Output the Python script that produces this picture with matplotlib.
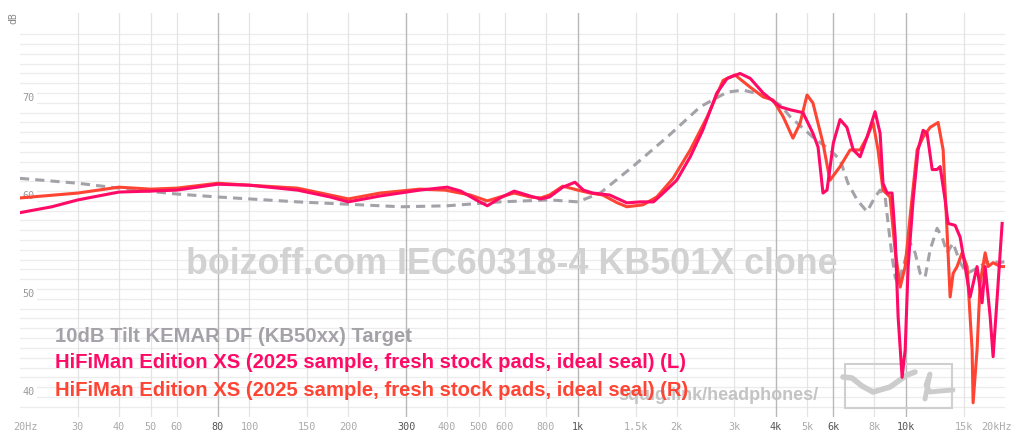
import matplotlib
matplotlib.use('Agg')
from matplotlib import pyplot as plt

plt.rcParams['font.family'] = ['Liberation Sans', 'DejaVu Sans']

# target curve (gray dashed)
target_f = [20, 30, 40, 60, 80, 140, 290, 400, 580, 820, 1000, 1170, 1470, 1870, 2360, 2850,
            3190, 3670, 4130, 4430, 5200, 5860, 6290, 6650, 7090, 7600, 8040, 8330, 8630, 8810,
            9060, 9260, 9450, 9790, 10280, 10650, 11030, 11420, 11830, 12420, 12870, 13330,
            13900, 14600, 15330, 16800, 17400, 18400, 19300, 20000]
target_db = [61.8, 61.3, 60.8, 60.2, 59.9, 59.4, 58.9, 59.0, 59.4, 59.6, 59.4, 60.3, 63.0, 66.0,
             69.1, 70.6, 70.8, 70.3, 69.3, 68.1, 66.0, 64.7, 63.7, 61.3, 59.6, 58.4, 59.9, 60.6,
             59.9, 57.2, 53.8, 51.7, 51.1, 52.8, 55.2, 54.2, 52.1, 51.7, 54.5, 56.7, 55.8, 54.2,
             55.2, 53.2, 52.1, 52.8, 53.2, 53.3, 53.2, 53.3]

# HiFiMan Edition XS (L)
left_f = [20, 25, 30, 40, 50, 60, 80, 100, 140, 176, 200, 250, 330, 400, 440, 490, 530, 580,
          640, 715, 770, 820, 900, 980, 1040, 1110, 1250, 1410, 1550, 1700, 1820, 2000, 2200,
          2400, 2650, 2850, 3120, 3350, 3670, 4130, 4430, 4850, 5200, 5390, 5580, 5740, 6000,
          6290, 6600, 6900, 7240, 7600, 8040, 8330, 8500, 8750, 9060, 9260, 9450, 9720, 9930,
          10140, 10500, 10870, 11260, 11580, 12000, 12420, 12690, 13140, 13420, 14100, 14600,
          15120, 15660, 16440, 17030, 17400, 18020, 18400, 19060, 19600]
left_db = [58.3, 58.9, 59.6, 60.4, 60.5, 60.6, 61.2, 61.1, 60.6, 59.9, 59.4, 60.0, 60.6, 60.9,
           60.5, 59.6, 59.0, 59.8, 60.5, 60.0, 59.7, 59.9, 60.9, 61.4, 60.6, 60.3, 60.1, 59.3,
           59.4, 59.4, 60.3, 61.6, 64.0, 66.7, 70.5, 72.0, 72.5, 72.0, 70.5, 69.1, 68.8, 68.5,
           66.4, 65.0, 60.3, 60.6, 65.4, 67.8, 67.0, 64.7, 64.0, 66.0, 68.6, 66.4, 61.3, 60.3,
           60.3, 55.8, 47.7, 41.5, 44.3, 52.8, 59.6, 64.7, 66.7, 66.4, 62.7, 62.7, 63.0, 59.6,
           57.2, 57.0, 55.8, 52.8, 49.7, 52.8, 49.1, 52.8, 47.7, 43.6, 51.1, 57.2]

# HiFiMan Edition XS (R)
right_f = [20, 30, 40, 50, 60, 80, 100, 140, 176, 200, 250, 330, 394, 470, 530, 580, 640, 715,
           770, 820, 900, 1000, 1090, 1190, 1320, 1410, 1580, 1740, 1950, 2200, 2480, 2770, 3010,
           3350, 3670, 3930, 4220, 4520, 4750, 4990, 5200, 5580, 5860, 6290, 6750, 7240, 7600,
           7930, 8210, 8500, 8930, 9250, 9590, 9930, 10280, 10800, 11260, 11830, 12510, 12960,
           13330, 13610, 13900, 14290, 14800, 15330, 15880, 15990, 16440, 16800, 17400, 17770,
           18400, 19330, 20000]
right_db = [59.8, 60.3, 60.9, 60.7, 60.8, 61.3, 61.1, 60.8, 60.1, 59.7, 60.3, 60.7, 60.6, 60.1,
            59.5, 59.9, 60.3, 59.9, 59.8, 60.1, 61.0, 60.6, 60.3, 60.1, 59.3, 58.9, 59.1, 59.9,
            61.8, 64.7, 68.1, 71.8, 72.35, 71.1, 70.1, 69.8, 68.1, 65.9, 67.4, 70.3, 69.5, 65.4,
            61.6, 63.0, 64.7, 64.7, 66.0, 67.5, 64.7, 60.6, 59.9, 54.5, 50.7, 52.8, 57.9, 64.7,
            66.0, 67.0, 67.5, 64.7, 56.2, 49.7, 52.1, 52.8, 54.2, 52.8, 44.3, 38.9, 44.3, 51.1,
            54.2, 52.8, 53.2, 52.8, 52.8]

freq_ticks = [20, 30, 40, 50, 60, 80, 100, 150, 200, 300, 400, 500, 600, 800, 1000, 1500,
              2000, 3000, 4000, 5000, 6000, 8000, 10000, 15000, 20000]
freq_labels = ['20Hz', '30', '40', '50', '60', '80', '100', '150', '200', '300', '400', '500',
               '600', '800', '1k', '1.5k', '2k', '3k', '4k', '5k', '6k', '8k', '10k', '15k', '20kHz']
strong_ticks = [80, 300, 1000, 4000, 6000, 10000]
db_ticks = [40, 50, 60, 70]

W, H = 1024, 443
fig = plt.figure(figsize=(W / 100, H / 100), dpi=100)
ax = fig.add_axes([20 / W, 1 - 417 / H, 985 / W, 404 / H])
ax.set_xscale('log')
ax.set_xlim(20, 20000)
ax.set_ylim(37.45, 78.67)
ax.axis('off')

# grid
for d in range(39, 78):
    ax.axhline(d - 0.5, color='#ececec', lw=0.9, zorder=0)
for f in freq_ticks[1:-1]:
    if f in strong_ticks:
        ax.axvline(f, color='#b8b8b8', lw=1.0, zorder=0.2)
    else:
        ax.axvline(f, color='#e4e4e4', lw=0.9, zorder=0.1)

# tick labels
for f, lab in zip(freq_ticks, freq_labels):
    c = '#555555' if f in strong_ticks else '#aaaaaa'
    dx = 0
    if lab == '20Hz':
        dx = 5
    if lab == '20kHz':
        dx = -8
    ax.annotate(lab, (f, 0), xycoords=('data', 'axes fraction'), xytext=(dx, -10),
                textcoords='offset pixels', ha='center', va='center', fontsize=7.3,
                family='DejaVu Sans Mono', color=c, annotation_clip=False)
for d in db_ticks:
    ax.text(21.2, d, str(d), ha='center', va='center', fontsize=7.3, family='DejaVu Sans Mono',
            color='#999999', zorder=1,
            bbox=dict(facecolor='white', edgecolor='none', pad=1.5))
fig.text(13 / W, 1 - 18 / H, 'dB', rotation=90, ha='center', va='center', fontsize=7,
         family='DejaVu Sans Mono', color='#888888')

# watermarks
ax.text(512 / W, 1 - 265 / H, 'boizoff.com IEC60318-4 KB501X clone', transform=fig.transFigure,
        ha='center', va='center', fontsize=25.8, fontweight='bold', color='#d2d2d2', zorder=0.5)
ax.text(718 / W, 1 - 396 / H, 'squig.link/headphones/', transform=fig.transFigure,
        ha='center', va='center', fontsize=13, fontweight='bold', color='#c4c4c4', zorder=0.5)

# logo box
logo = plt.Rectangle((845 / W, 1 - 408 / H), 107 / W, 44 / H, transform=fig.transFigure,
                     facecolor='none', edgecolor='#cfcfcf', lw=1.5, zorder=0.5)
ax.add_patch(logo)
ax.plot([843 / W, 852 / W, 862 / W, 873 / W, 890 / W, 907 / W, 915 / W],
        [1 - 377 / H, 1 - 378 / H, 1 - 386 / H, 1 - 392 / H, 1 - 387 / H, 1 - 375 / H, 1 - 372 / H],
        transform=fig.transFigure, color='#cccccc', lw=4, solid_capstyle='round', zorder=0.5)
ax.plot([925 / W, 930 / W, 926 / W, 930 / W, 940 / W, 953 / W],
        [1 - 399 / H, 1 - 374 / H, 1 - 385 / H, 1 - 392 / H, 1 - 391 / H, 1 - 390 / H],
        transform=fig.transFigure, color='#cccccc', lw=3.5, solid_capstyle='round', zorder=0.5)

# curves
ax.plot(target_f, target_db, color='#a4a2a8', lw=2.2, ls=(0, (3, 2)), zorder=2)
ax.plot(right_f, right_db, color='#ff4433', lw=2.2, zorder=3)
ax.plot(left_f, left_db, color='#ff0a66', lw=2.2, zorder=3)

# legend text
fig.text(55 / W, 1 - 336 / H, '10dB Tilt KEMAR DF (KB50xx) Target', ha='left', va='center',
         fontsize=14.6, fontweight='bold', color='#a4a2a8')
fig.text(55 / W, 1 - 363 / H, 'HiFiMan Edition XS (2025 sample, fresh stock pads, ideal seal) (L)',
         ha='left', va='center', fontsize=14.6, fontweight='bold', color='#ff0a66')
fig.text(55 / W, 1 - 391 / H, 'HiFiMan Edition XS (2025 sample, fresh stock pads, ideal seal) (R)',
         ha='left', va='center', fontsize=14.6, fontweight='bold', color='#ff4433')

fig.savefig('out.png', dpi=100)
